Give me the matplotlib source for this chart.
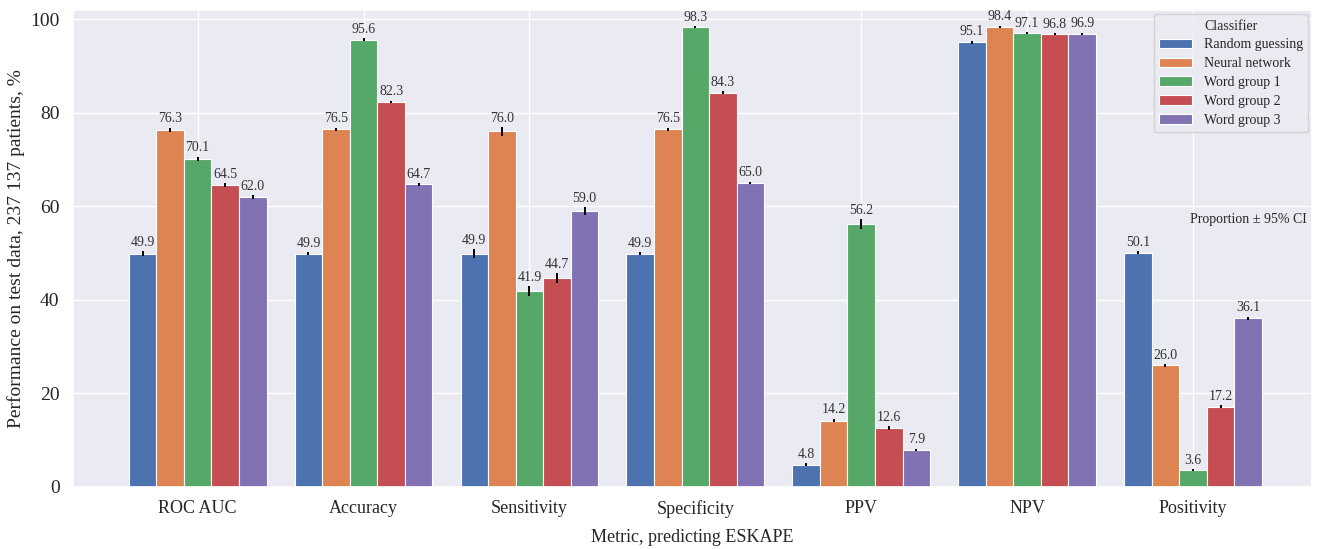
import matplotlib.pyplot as plt
import seaborn as sns
import numpy as np

metrics = ['ROC AUC', 'Accuracy', 'Sensitivity', 'Specificity', 'PPV', 'NPV', 'Positivity']
classifiers = ['Random guessing', 'Neural network', 'Word group 1', 'Word group 2', 'Word group 3']

random_guess = [49.9, 49.9, 49.9, 49.9, 4.8, 95.1, 50.1]
neural_net = [76.3, 76.5, 76.0, 76.5, 14.2, 98.4, 26.0]
word_group1 = [70.1, 95.6, 41.9, 98.3, 56.2, 97.1, 3.6]
word_group2 = [64.5, 82.3, 44.7, 84.3, 12.6, 96.8, 17.2]
word_group3 = [62.0, 64.7, 59.0, 65.0, 7.9, 96.9, 36.1]

# half width of the 95% CI
err_random = [0.5, 0.3, 1.0, 0.3, 0.3, 0.3, 0.3]
err_nn = [0.5, 0.3, 0.9, 0.3, 0.4, 0.2, 0.3]
err_wg1 = [0.5, 0.3, 1.0, 0.2, 1.1, 0.2, 0.2]
err_wg2 = [0.4, 0.3, 1.0, 0.3, 0.4, 0.2, 0.3]
err_wg3 = [0.4, 0.3, 0.8, 0.3, 0.3, 0.2, 0.3]

values = [random_guess, neural_net, word_group1, word_group2, word_group3]
errors = [err_random, err_nn, err_wg1, err_wg2, err_wg3]

sns.set_theme(style='darkgrid')
plt.rcParams['font.family'] = ['Liberation Serif', 'DejaVu Serif']
colors = sns.color_palette('deep', 5)

fig, ax = plt.subplots(figsize=(13.23, 5.49), dpi=100)
x = np.arange(len(metrics))
width = 0.166
for i, (name, vals, errs) in enumerate(zip(classifiers, values, errors)):
    pos = x + (i - 2) * width
    ax.bar(pos, vals, width, color=colors[i], edgecolor='white', linewidth=0.8,
           label=name, zorder=2)
    ax.errorbar(pos, vals, yerr=errs, fmt='none', ecolor='black', elinewidth=1.4, zorder=3)
    for p, v, e in zip(pos, vals, errs):
        ax.text(p, v + e + 0.5, f'{v:.1f}', ha='center', va='bottom', fontsize=10,
                color='#333333')

ax.set_xticks(x)
ax.set_xticklabels(metrics, fontsize=13)
ax.tick_params(axis='y', labelsize=14)
ax.set_xlim(-0.753, 6.72)
ax.set_ylim(0, 102)
ax.set_xlabel('Metric, predicting ESKAPE', fontsize=13, labelpad=8)
ax.set_ylabel('Performance on test data, 237 137 patients, %', fontsize=14)

leg = ax.legend(title='Classifier', loc='upper right', fontsize=10, title_fontsize=10,
                handlelength=2.4, borderaxespad=0.3, labelspacing=0.42)
ax.text(0.948, 0.56, 'Proportion \u00b1 95% CI', transform=ax.transAxes,
        ha='center', va='center', fontsize=10)

fig.subplots_adjust(left=0.055, right=0.992, top=0.982, bottom=0.113)
fig.savefig('out.png', dpi=100)
